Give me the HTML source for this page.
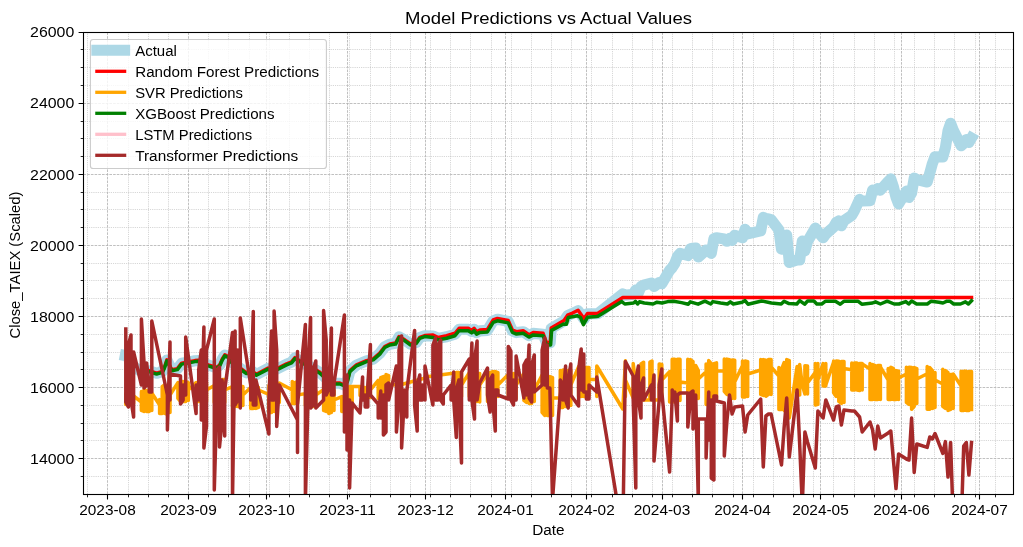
<!DOCTYPE html><html><head><meta charset="utf-8"><title>chart</title>
<style>html,body{margin:0;padding:0;background:#fff;}body{width:1023px;height:547px;overflow:hidden;font-family:"Liberation Sans",sans-serif;}svg{display:block;will-change:transform}text{font-family:"Liberation Sans",sans-serif;fill:#000}</style></head><body>
<svg width="1023" height="547" viewBox="0 0 1023 547">
<rect width="1023" height="547" fill="#fff"/>
<defs><clipPath id="c"><rect x="83.5" y="32.5" width="930.0" height="462.0"/></clipPath></defs>
<g clip-path="url(#c)" fill="none" stroke="#b0b0b0" stroke-width="0.7">
<path d="M87.5 32.5V494.5M128.5 32.5V494.5M148.5 32.5V494.5M168.5 32.5V494.5M208.5 32.5V494.5M228.5 32.5V494.5M249.5 32.5V494.5M269.5 32.5V494.5M289.5 32.5V494.5M309.5 32.5V494.5M329.5 32.5V494.5M349.5 32.5V494.5M370.5 32.5V494.5M390.5 32.5V494.5M410.5 32.5V494.5M430.5 32.5V494.5M450.5 32.5V494.5M470.5 32.5V494.5M491.5 32.5V494.5M511.5 32.5V494.5M531.5 32.5V494.5M551.5 32.5V494.5M571.5 32.5V494.5M591.5 32.5V494.5M612.5 32.5V494.5M632.5 32.5V494.5M652.5 32.5V494.5M672.5 32.5V494.5M692.5 32.5V494.5M712.5 32.5V494.5M733.5 32.5V494.5M753.5 32.5V494.5M773.5 32.5V494.5M793.5 32.5V494.5M813.5 32.5V494.5M833.5 32.5V494.5M854.5 32.5V494.5M874.5 32.5V494.5M894.5 32.5V494.5M914.5 32.5V494.5M934.5 32.5V494.5M954.5 32.5V494.5M975.5 32.5V494.5M995.5 32.5V494.5M83.5 476.5H1013.5M83.5 440.5H1013.5M83.5 423.5H1013.5M83.5 405.5H1013.5M83.5 369.5H1013.5M83.5 352.5H1013.5M83.5 334.5H1013.5M83.5 298.5H1013.5M83.5 280.5H1013.5M83.5 263.5H1013.5M83.5 227.5H1013.5M83.5 209.5H1013.5M83.5 192.5H1013.5M83.5 156.5H1013.5M83.5 138.5H1013.5M83.5 121.5H1013.5M83.5 85.5H1013.5M83.5 67.5H1013.5M83.5 49.5H1013.5" stroke-dasharray="0.75 1.1" stroke-width="1" opacity="0.68"/>
<path d="M107.5 32.5V494.5M188.5 32.5V494.5M266.5 32.5V494.5M347.5 32.5V494.5M425.5 32.5V494.5M505.5 32.5V494.5M586.5 32.5V494.5M662.5 32.5V494.5M742.5 32.5V494.5M820.5 32.5V494.5M901.5 32.5V494.5M979.5 32.5V494.5M83.5 458.5H1013.5M83.5 387.5H1013.5M83.5 316.5H1013.5M83.5 245.5H1013.5M83.5 174.5H1013.5M83.5 103.5H1013.5M83.5 32.5H1013.5" stroke-dasharray="2.6 1.1" stroke-width="1" opacity="0.8"/>
</g>
<g clip-path="url(#c)" fill="none" stroke-linejoin="round">
<polyline points="125.3,355.5 127.9,356.0 130.5,364.0 133.1,366.0 141.0,371.5 143.6,370.5 146.2,371.5 149.1,370.8 156.6,373.3 162.4,371.6 164.5,367.2 166.9,360.0 169.5,365.2 171.6,370.0 177.4,368.8 181.6,363.3 188.0,362.2 194.9,360.8 198.2,360.5 203.0,362.7 208.2,365.0 216.5,367.7 219.8,365.0 222.3,359.2 224.8,355.0 228.1,356.7 232.0,362.2 240.0,368.2 246.4,372.8 251.4,370.8 256.4,374.5 268.1,368.3 271.0,370.2 276.7,369.1 286.6,364.1 291.6,362.1 295.0,357.8 300.8,361.6 308.0,365.2 319.9,372.4 326.0,378.2 331.6,383.2 339.9,383.2 344.5,385.2 347.4,380.8 349.9,370.8 356.5,365.0 366.5,360.8 373.2,359.1 379.8,353.3 384.8,346.7 389.8,344.2 395.6,343.3 399.0,336.7 404.8,340.0 410.6,344.2 416.4,342.5 419.8,337.5 424.7,335.8 433.1,336.0 438.3,338.4 446.6,336.7 455.0,334.2 459.1,329.2 468.3,329.2 471.6,331.4 474.1,329.2 476.6,332.6 479.9,330.9 487.4,330.4 493.2,320.9 497.4,319.3 508.2,321.4 512.4,330.9 516.5,332.6 523.2,331.7 529.0,335.6 533.2,333.4 543.1,334.2 546.5,342.9 550.2,342.9 551.2,328.5 564.0,320.9 567.6,315.6 572.0,313.7 578.1,310.7 584.0,319.1 587.5,313.8 596.3,313.8 597.9,313.6 622.8,293.9 625.4,295.2 633.2,294.2 635.8,290.0 638.4,292.8 641.0,286.5 643.6,285.2 651.4,283.1 654.0,286.5 659.2,282.5 661.8,283.6 669.6,270.4 672.2,267.6 674.8,263.5 677.4,256.6 680.0,253.4 687.8,255.5 690.4,248.8 693.0,248.3 695.7,248.0 698.3,257.0 706.1,250.0 708.7,250.8 711.3,253.4 713.9,238.7 716.5,237.7 724.3,238.9 726.9,241.3 729.5,238.6 732.1,240.5 734.7,235.3 742.5,237.8 745.1,229.2 747.7,233.8 760.7,230.9 763.3,217.4 765.9,218.5 768.5,219.0 771.1,219.6 778.9,229.8 781.5,249.2 784.1,238.2 786.7,235.0 789.3,262.5 797.1,260.0 799.7,260.0 802.3,241.1 804.9,250.8 807.5,241.5 815.3,228.1 817.9,231.7 823.1,237.8 825.8,234.0 833.6,227.1 836.2,222.5 838.8,220.9 841.4,225.8 844.0,220.6 851.8,215.3 854.4,210.7 857.0,205.0 859.6,199.4 862.2,201.0 870.0,200.6 872.6,190.1 875.2,190.6 877.8,188.6 880.4,190.1 888.2,181.4 890.8,178.9 893.4,186.7 896.0,197.3 898.6,204.0 906.4,191.1 909.0,197.5 911.6,193.0 914.2,178.1 916.8,179.7 927.2,182.0 929.8,172.9 932.4,163.6 935.0,156.7 942.8,157.0 945.4,147.8 948.0,130.9 950.6,123.3 953.2,130.1 961.1,145.8 963.7,143.6 966.3,139.6 968.9,142.5 971.5,138.0" stroke="#add8e6" stroke-width="11.1" stroke-linecap="square"/>
<polyline points="149.1,370.6 156.6,373.1 162.4,371.4 164.5,367.0 166.9,359.8 169.5,365.0 171.6,369.8 177.4,368.6 181.6,363.1 188.0,362.0 194.9,360.6 198.2,360.3 203.0,362.5 208.2,364.8 216.5,367.5 219.8,364.8 222.3,359.0 224.8,354.8 228.1,356.5 232.0,362.0 240.0,368.0 246.4,372.6 251.4,370.6 256.4,374.3 268.1,368.1 271.0,370.0 276.7,368.9 286.6,363.9 291.6,361.9 295.0,357.6 300.8,361.4 308.0,365.0 319.9,372.2 326.0,378.0 331.6,383.0 339.9,383.0 344.5,385.0 347.4,380.6 349.9,370.6 356.5,364.8 366.5,360.6 373.2,358.9 379.8,353.1 384.8,346.5 389.8,344.0 395.6,343.1 399.0,336.5 404.8,339.8 410.6,344.0 416.4,342.3 419.8,337.3 424.7,335.6 433.1,335.1 438.3,337.5 446.6,335.8 455.0,333.3 459.1,328.3 468.3,328.3 471.6,330.5 474.1,328.3 476.6,331.7 479.9,330.0 487.4,329.5 493.2,320.0 497.4,318.4 508.2,320.5 512.4,330.0 516.5,331.7 523.2,330.8 529.0,334.7 533.2,332.5 543.1,333.3 546.5,342.5 550.2,342.5 551.2,328.1 564.0,320.5 567.6,315.2 572.0,313.3 578.1,310.3 584.0,318.7 587.5,313.4 596.3,313.4 597.9,313.2 622.8,297.5 971.5,297.5" stroke="#ff0000" stroke-width="3.5" stroke-linecap="square"/>
<polyline points="125.8,395.0 125.8,393.6 125.8,404.4 128.4,404.4 128.4,393.6 131.0,394.6 131.0,404.4 133.6,403.4 133.6,395.6 133.6,396.0 141.4,402.0 141.4,391.6 141.4,410.4 144.0,411.4 144.0,389.6 146.6,390.6 146.6,411.4 149.2,411.4 149.2,391.6 151.8,393.6 151.8,410.4 151.8,393.0 159.6,405.0 159.6,399.6 159.6,413.4 162.2,413.4 162.2,386.6 164.8,384.6 164.8,413.4 167.4,414.4 167.4,386.6 170.0,396.6 170.0,412.4 170.0,395.0 177.9,382.6 177.9,398.4 180.5,401.4 180.5,381.6 183.1,381.6 183.1,401.4 185.7,401.4 185.7,381.6 188.3,382.6 188.3,400.4 188.3,390.0 196.1,382.6 196.1,401.4 198.7,401.4 198.7,382.6 201.3,382.6 201.3,402.4 203.9,402.4 203.9,382.6 206.5,382.6 206.5,401.4 206.5,390.0 214.3,385.6 214.3,402.4 216.9,402.4 216.9,384.6 219.5,384.6 219.5,402.4 222.1,402.4 222.1,379.6 224.7,379.6 224.7,402.4 224.7,390.0 232.5,386.6 232.5,406.4 235.1,406.4 235.1,386.6 237.7,386.6 237.7,406.4 240.3,406.4 240.3,386.6 242.9,386.6 242.9,405.4 242.9,395.0 250.7,387.6 250.7,408.4 253.3,408.4 253.3,387.6 255.9,387.6 255.9,408.4 258.5,407.4 258.5,387.6 258.5,390.0 268.9,394.5 268.9,385.6 268.9,412.4 271.5,412.4 271.5,385.6 274.1,385.6 274.1,411.4 276.7,403.4 276.7,384.6 279.3,384.6 279.3,402.4 279.3,383.0 292.3,390.0 292.3,381.6 292.3,403.4 294.9,403.4 294.9,382.6 297.5,381.6 297.5,403.4 297.5,395.0 305.4,393.6 305.4,405.4 308.0,406.4 308.0,389.6 310.6,389.6 310.6,406.4 313.2,406.4 313.2,390.6 315.8,390.6 315.8,405.4 315.8,395.0 323.6,389.6 323.6,410.4 326.2,411.4 326.2,389.6 328.8,389.6 328.8,413.4 331.4,412.4 331.4,390.6 334.0,390.6 334.0,410.4 334.0,400.0 341.8,396.6 341.8,411.4 344.4,411.4 344.4,397.6 344.4,400.0 347.0,389.6 347.0,406.4 349.6,408.4 349.6,386.6 352.2,386.6 352.2,408.4 352.2,386.5 360.0,386.5 360.0,388.1 360.0,395.4 362.6,396.4 362.6,387.6 365.2,387.6 365.2,397.4 367.8,398.4 367.8,387.6 370.4,388.6 370.4,397.4 370.4,390.0 378.2,380.3 378.2,398.4 380.8,398.4 380.8,377.6 383.4,376.6 383.4,398.4 386.0,398.4 386.0,374.6 388.6,375.6 388.6,398.4 388.6,385.0 401.6,384.5 425.0,378.0 425.0,377.0 451.1,373.5 453.7,373.6 453.7,393.4 456.3,393.4 456.3,372.6 458.9,372.6 458.9,394.4 461.5,396.4 461.5,372.6 461.5,385.0 469.3,372.6 469.3,396.4 471.9,396.4 471.9,372.6 474.5,372.6 474.5,396.4 477.1,401.4 477.1,373.6 479.7,373.6 479.7,401.9 479.7,385.0 487.5,373.6 487.5,401.4 490.1,400.4 490.1,372.6 492.7,371.6 492.7,396.4 495.3,396.4 495.3,371.6 497.9,372.6 497.9,396.4 497.9,385.0 508.3,374.6 508.3,396.4 510.9,397.4 510.9,374.6 513.5,373.6 513.5,398.4 516.1,398.4 516.1,373.6 516.1,385.0 523.9,373.6 523.9,400.4 526.5,402.4 526.5,373.6 529.1,373.6 529.1,403.4 531.7,403.4 531.7,374.6 534.3,374.6 534.3,401.4 534.3,390.0 542.1,375.0 542.1,376.3 542.1,412.4 544.7,415.4 544.7,376.6 547.3,376.6 547.3,415.4 549.9,415.4 549.9,376.6 552.5,377.6 552.5,415.4 552.5,398.0 560.3,398.0 560.3,370.6 560.3,407.4 562.9,407.4 562.9,370.1 565.6,370.1 565.6,406.4 568.2,406.4 568.2,370.6 570.8,370.6 570.8,405.4 570.8,385.0 578.6,366.6 578.6,396.4 581.2,396.4 581.2,366.6 583.8,366.6 583.8,396.4 586.4,396.4 586.4,367.6 589.0,367.6 589.0,395.4 589.0,379.5 596.8,379.5 596.8,367.6 596.8,396.4 596.8,366.0 622.8,409.0 625.4,360.8 625.4,362.4 625.4,396.4 625.4,380.0 633.2,398.0 633.2,363.5 635.8,385.0 638.4,400.0 641.0,400.0 641.0,364.0 643.6,362.3 643.6,400.0 649.9,400.0 649.9,362.0 652.0,361.0 652.0,398.0 654.0,400.0 659.2,400.0 659.2,364.0 661.8,364.5 661.8,400.0 661.8,380.0 669.6,371.6 669.6,401.9 672.2,401.9 672.2,359.3 674.8,359.3 674.8,401.9 677.4,401.4 677.4,359.3 680.0,359.3 680.0,400.4 680.0,382.0 687.8,383.0 687.8,359.3 687.8,398.4 690.4,398.4 690.4,359.6 693.0,361.6 693.0,398.4 695.7,399.4 695.7,365.6 698.3,370.6 698.3,398.4 698.3,379.0 706.1,371.7 706.1,364.1 706.1,404.4 708.7,404.4 708.7,360.6 711.3,363.6 711.3,400.4 713.9,398.4 713.9,363.6 716.5,362.9 716.5,398.4 716.5,371.0 724.3,371.0 724.3,359.1 724.3,391.4 726.9,394.4 726.9,359.1 729.5,359.6 729.5,396.4 732.1,398.4 732.1,360.1 734.7,360.3 734.7,398.4 734.7,382.0 742.5,365.6 742.5,361.0 742.5,396.9 745.1,396.9 745.1,361.0 747.7,361.6 747.7,396.4 747.7,374.0 760.7,370.0 760.7,359.6 760.7,394.4 763.3,395.4 763.3,359.6 765.9,360.1 765.9,396.2 768.5,394.4 768.5,359.6 771.1,359.6 771.1,394.4 771.1,367.0 778.9,376.0 778.9,367.6 778.9,409.4 781.5,409.4 781.5,369.6 784.1,362.6 784.1,410.4 786.7,412.4 786.7,359.6 789.3,360.6 789.3,416.9 789.3,418.0 797.1,366.5 797.1,393.0 799.7,395.0 799.7,364.4 802.3,385.0 804.9,394.0 804.9,365.8 807.5,366.0 807.5,394.0 807.5,383.0 815.3,372.4 815.3,363.6 815.3,405.1 817.9,404.4 817.9,363.6 817.9,380.0 823.1,363.6 823.1,385.9 825.8,385.9 825.8,363.6 825.8,385.0 833.6,362.0 833.6,361.0 833.6,392.8 836.2,396.4 836.2,361.0 838.8,361.2 838.8,401.4 841.4,403.4 841.4,361.6 844.0,361.6 844.0,402.4 844.0,368.5 851.8,369.7 851.8,363.1 851.8,390.0 854.4,390.0 854.4,363.1 857.0,363.1 857.0,390.0 859.6,390.4 859.6,363.6 862.2,363.6 862.2,390.0 862.2,364.0 870.0,369.0 870.0,363.6 870.0,399.6 872.6,399.6 872.6,364.6 875.2,365.6 875.2,399.4 877.8,399.4 877.8,365.6 880.4,365.6 880.4,399.4 880.4,367.0 888.2,380.0 888.2,368.6 888.2,399.6 890.8,399.6 890.8,367.2 893.4,368.6 893.4,399.6 896.0,399.4 896.0,370.6 898.6,371.3 898.6,399.4 898.6,378.0 906.4,374.0 906.4,367.2 906.4,402.4 909.0,404.4 909.0,367.2 911.6,367.6 911.6,409.2 914.2,406.4 914.2,367.6 916.8,368.6 916.8,403.4 916.8,379.0 927.2,373.8 927.2,366.6 927.2,409.2 929.8,409.2 929.8,367.6 932.4,370.6 932.4,408.4 935.0,407.4 935.0,372.6 935.0,380.0 942.8,384.0 942.8,369.2 942.8,406.4 945.4,408.4 945.4,370.6 948.0,372.6 948.0,410.4 950.6,409.4 950.6,374.6 953.2,374.6 953.2,408.4 953.2,374.0 961.1,386.0 961.1,371.3 961.1,410.6 963.7,410.6 963.7,371.3 966.3,371.3 966.3,410.6 968.9,410.4 968.9,371.6 971.5,371.6 971.5,409.4" stroke="#ffa500" stroke-width="3.5" stroke-linecap="square"/>
<polyline points="149.1,371.6 156.6,374.1 162.4,372.4 164.5,368.0 166.9,360.8 169.5,366.0 171.6,370.8 177.4,369.6 181.6,364.1 188.0,363.0 194.9,361.6 198.2,361.3 203.0,363.5 208.2,365.8 216.5,368.5 219.8,365.8 222.3,360.0 224.8,355.8 228.1,357.5 232.0,363.0 240.0,369.0 246.4,373.6 251.4,371.6 256.4,375.3 268.1,369.1 271.0,371.0 276.7,369.9 286.6,364.9 291.6,362.9 295.0,358.6 300.8,362.4 308.0,366.0 319.9,373.2 326.0,379.0 331.6,384.0 339.9,384.0 344.5,386.0 347.4,381.6 349.9,371.6 356.5,365.8 366.5,361.6 373.2,359.9 379.8,354.1 384.8,347.5 389.8,345.0 395.6,344.1 399.0,337.5 404.8,340.8 410.6,345.0 416.4,343.3 419.8,338.3 424.7,336.6 433.1,337.5 438.3,339.9 446.6,338.2 455.0,335.7 459.1,330.7 468.3,330.7 471.6,332.9 474.1,330.7 476.6,334.1 479.9,332.4 487.4,331.9 493.2,322.4 497.4,320.8 508.2,322.9 512.4,332.4 516.5,334.1 523.2,333.2 529.0,337.1 533.2,334.9 543.1,335.7 546.5,345.0 550.6,345.0 551.6,330.4 563.5,324.0 566.4,324.3 568.2,317.5 577.5,315.8 580.5,317.5 583.4,324.6 587.5,317.3 596.3,316.4 597.9,316.2 621.8,301.6 624.8,304.0 633.6,303.0 635.5,301.4 637.5,304.0 639.4,301.8 644.3,303.0 653.1,304.0 657.0,302.2 662.0,303.0 667.8,301.6 673.7,301.2 681.5,302.6 688.3,304.2 690.3,301.8 698.1,304.2 704.9,301.2 710.8,304.0 712.8,301.6 720.6,303.0 727.4,304.0 730.3,301.8 733.3,304.0 742.1,302.2 745.0,300.6 748.0,304.2 761.6,301.0 771.4,303.0 781.2,304.0 784.1,301.2 789.0,303.6 796.8,304.0 799.7,300.6 804.6,304.2 807.6,301.0 813.9,301.0 816.8,304.0 821.7,304.0 825.6,301.2 835.4,301.2 840.3,304.2 844.2,301.2 857.9,301.2 861.8,304.2 872.6,303.0 875.5,301.8 880.4,304.0 887.2,301.2 894.1,304.0 899.0,304.0 905.8,301.6 908.7,304.0 911.7,301.0 916.6,304.0 927.3,304.0 931.2,301.2 939.0,302.2 943.0,303.0 946.9,301.2 949.8,301.2 953.7,304.0 960.5,304.0 965.4,301.8 968.4,304.0 971.5,300.8" stroke="#008000" stroke-width="3.5" stroke-linecap="square"/>
<polyline points="125.8,329.0 125.8,402.0 128.4,407.0 128.4,345.0 131.0,335.0 131.0,400.0 133.6,417.0 133.6,352.0 141.4,385.0 141.4,319.0 144.0,362.0 144.0,388.0 146.6,385.0 146.6,363.0 149.2,385.0 149.2,392.0 151.8,392.0 151.8,321.0 167.4,395.0 167.4,430.0 170.0,342.0 170.0,400.0 170.0,374.0 180.5,376.0 180.5,404.0 183.1,400.0 183.1,385.0 185.7,395.0 185.7,337.0 196.1,413.5 196.1,385.0 198.7,400.0 198.7,370.0 201.3,350.0 201.3,420.0 203.9,327.0 203.9,448.0 206.5,426.0 206.5,350.0 214.3,319.0 214.3,490.0 216.9,400.0 216.9,370.0 219.5,367.0 219.5,447.0 222.1,420.0 222.1,380.0 224.7,436.0 224.7,390.0 232.5,332.5 232.5,500.0 235.1,331.0 235.1,405.0 237.7,400.0 237.7,350.0 240.3,408.0 240.3,318.0 250.7,385.0 250.7,400.0 253.3,311.4 253.3,405.0 255.9,405.0 255.9,380.0 268.9,434.0 268.9,400.0 271.5,331.0 271.5,400.0 274.1,400.0 274.1,311.0 276.7,350.0 276.7,426.5 279.3,385.0 297.5,420.0 297.5,351.4 297.5,452.4 297.5,405.0 305.4,324.5 305.4,500.0 308.0,400.0 308.0,365.0 310.6,317.5 310.6,408.0 313.2,405.0 313.2,370.0 315.8,361.0 315.8,408.0 323.6,400.0 323.6,310.6 326.2,340.0 326.2,395.0 328.8,389.0 331.4,328.0 331.4,395.0 334.0,395.0 334.0,383.0 344.4,315.0 344.4,432.0 347.0,375.0 347.0,450.0 349.6,400.0 349.6,488.0 352.2,403.0 360.0,413.0 362.6,377.0 362.6,400.0 365.2,395.0 365.2,407.0 367.8,407.0 367.8,385.0 370.4,344.5 370.4,395.0 378.2,404.0 378.2,418.0 380.8,391.0 380.8,418.0 383.4,395.0 383.4,435.0 386.0,432.0 386.0,385.0 388.6,383.0 388.6,400.0 396.4,366.0 396.4,432.0 399.0,400.0 399.0,350.0 401.6,336.0 401.6,448.0 404.2,400.0 404.2,390.0 406.8,417.0 406.8,391.0 414.6,330.5 414.6,405.0 417.2,431.0 417.2,385.0 419.8,375.0 419.8,400.0 422.4,400.0 422.4,385.0 425.0,400.0 425.0,366.0 432.9,405.0 432.9,345.0 435.5,338.0 435.5,400.0 438.1,400.0 438.1,345.0 440.7,340.0 440.7,400.0 443.3,404.0 443.3,395.0 451.1,385.0 451.1,400.0 453.7,372.0 453.7,400.0 456.3,437.5 456.3,390.0 458.9,380.0 458.9,400.0 461.5,463.0 461.5,372.0 469.3,359.0 469.3,400.0 471.9,343.0 471.9,400.0 474.5,419.0 474.5,360.0 477.1,341.0 477.1,400.0 479.7,383.0 487.5,368.0 487.5,395.0 490.1,412.0 490.1,380.0 492.7,375.0 492.7,400.0 495.3,431.0 495.3,390.0 497.9,390.0 497.9,395.0 508.3,399.0 508.3,346.4 510.9,351.0 510.9,400.0 513.5,405.0 513.5,380.0 516.1,400.0 516.1,356.0 523.9,398.0 523.9,365.0 526.5,360.0 526.5,395.0 529.1,345.0 529.1,398.0 531.7,402.0 531.7,365.0 534.3,355.0 534.3,392.0 542.1,385.0 542.1,350.0 544.7,338.0 544.7,385.0 547.3,345.0 547.3,388.0 549.9,388.0 552.5,500.0 560.3,392.0 560.3,380.0 562.9,385.0 562.9,400.0 565.6,366.0 565.6,400.0 568.2,408.0 568.2,380.0 570.8,364.0 570.8,395.0 578.6,406.0 578.6,370.0 581.2,349.0 581.2,390.0 583.8,354.0 583.8,392.0 586.4,392.0 586.4,399.0 589.0,399.0 589.0,385.0 596.8,392.0 596.8,377.0 622.8,536.0 625.4,361.5 633.2,376.0 633.2,400.0 635.8,488.0 635.8,380.0 638.4,366.0 638.4,400.0 641.0,418.0 641.0,385.0 643.6,378.0 643.6,400.0 651.4,385.0 651.4,400.0 654.0,375.0 654.0,461.0 659.2,400.0 659.2,385.0 661.8,369.0 661.8,392.0 669.6,472.0 672.2,396.0 672.2,390.0 674.8,400.0 674.8,392.0 677.4,421.0 677.4,395.0 680.0,393.0 687.8,393.0 687.8,427.0 690.4,400.0 690.4,393.0 693.0,391.0 693.0,429.0 695.7,410.0 695.7,395.0 698.3,500.0 698.3,419.0 706.1,419.0 706.1,458.0 708.7,392.0 708.7,440.0 711.3,400.0 711.3,478.0 713.9,480.0 713.9,396.0 716.5,396.0 716.5,401.0 724.3,403.0 724.3,456.0 726.9,421.0 729.5,395.0 732.1,414.0 734.7,407.0 742.5,406.0 745.1,432.0 747.7,415.0 760.7,399.0 763.3,467.0 765.9,416.0 768.5,414.0 771.1,414.0 778.9,452.0 781.5,465.0 784.1,428.0 786.7,398.0 789.3,457.0 797.1,390.0 799.7,445.0 802.3,505.0 804.9,432.0 807.5,442.0 815.3,468.0 817.9,411.0 823.1,418.0 825.8,400.0 833.6,420.0 836.2,407.0 838.8,406.0 841.4,425.0 844.0,410.0 851.8,411.0 854.4,411.0 857.0,414.0 859.6,417.0 862.2,432.0 870.0,422.0 872.6,430.0 875.2,449.0 877.8,426.0 880.4,438.0 888.2,433.0 890.8,431.0 893.4,460.0 896.0,488.5 898.6,454.0 906.4,459.0 909.0,460.0 911.6,418.0 914.2,472.4 916.8,444.0 927.2,447.4 929.8,437.0 932.4,439.0 935.0,433.5 942.8,453.4 945.4,441.6 948.0,477.0 950.6,442.5 953.2,520.0 961.1,530.0 963.7,446.0 966.3,442.5 968.9,475.0 971.5,442.5" stroke="#a52a2a" stroke-width="3.5" stroke-linecap="square"/>
</g>
<rect x="83.5" y="32.5" width="930.0" height="462.0" fill="none" stroke="#000" stroke-width="1.1"/>
<path d="M107.5 494.5v4.9M188.5 494.5v4.9M266.5 494.5v4.9M347.5 494.5v4.9M425.5 494.5v4.9M505.5 494.5v4.9M586.5 494.5v4.9M662.5 494.5v4.9M742.5 494.5v4.9M820.5 494.5v4.9M901.5 494.5v4.9M979.5 494.5v4.9M83.5 458.5h-4.9M83.5 387.5h-4.9M83.5 316.5h-4.9M83.5 245.5h-4.9M83.5 174.5h-4.9M83.5 103.5h-4.9M83.5 32.5h-4.9" stroke="#000" stroke-width="1.1" fill="none"/>
<path d="M87.5 494.5v2.8M128.5 494.5v2.8M148.5 494.5v2.8M168.5 494.5v2.8M208.5 494.5v2.8M228.5 494.5v2.8M249.5 494.5v2.8M269.5 494.5v2.8M289.5 494.5v2.8M309.5 494.5v2.8M329.5 494.5v2.8M349.5 494.5v2.8M370.5 494.5v2.8M390.5 494.5v2.8M410.5 494.5v2.8M430.5 494.5v2.8M450.5 494.5v2.8M470.5 494.5v2.8M491.5 494.5v2.8M511.5 494.5v2.8M531.5 494.5v2.8M551.5 494.5v2.8M571.5 494.5v2.8M591.5 494.5v2.8M612.5 494.5v2.8M632.5 494.5v2.8M652.5 494.5v2.8M672.5 494.5v2.8M692.5 494.5v2.8M712.5 494.5v2.8M733.5 494.5v2.8M753.5 494.5v2.8M773.5 494.5v2.8M793.5 494.5v2.8M813.5 494.5v2.8M833.5 494.5v2.8M854.5 494.5v2.8M874.5 494.5v2.8M894.5 494.5v2.8M914.5 494.5v2.8M934.5 494.5v2.8M954.5 494.5v2.8M975.5 494.5v2.8M995.5 494.5v2.8M83.5 476.5h-2.8M83.5 440.5h-2.8M83.5 423.5h-2.8M83.5 405.5h-2.8M83.5 369.5h-2.8M83.5 352.5h-2.8M83.5 334.5h-2.8M83.5 298.5h-2.8M83.5 280.5h-2.8M83.5 263.5h-2.8M83.5 227.5h-2.8M83.5 209.5h-2.8M83.5 192.5h-2.8M83.5 156.5h-2.8M83.5 138.5h-2.8M83.5 121.5h-2.8M83.5 85.5h-2.8M83.5 67.5h-2.8M83.5 49.5h-2.8" stroke="#000" stroke-width="0.85" fill="none"/>
<text x="107.5" y="515.2" font-size="14" text-anchor="middle" textLength="56.5" lengthAdjust="spacingAndGlyphs">2023-08</text>
<text x="188.5" y="515.2" font-size="14" text-anchor="middle" textLength="56.5" lengthAdjust="spacingAndGlyphs">2023-09</text>
<text x="266.5" y="515.2" font-size="14" text-anchor="middle" textLength="56.5" lengthAdjust="spacingAndGlyphs">2023-10</text>
<text x="347.5" y="515.2" font-size="14" text-anchor="middle" textLength="56.5" lengthAdjust="spacingAndGlyphs">2023-11</text>
<text x="425.5" y="515.2" font-size="14" text-anchor="middle" textLength="56.5" lengthAdjust="spacingAndGlyphs">2023-12</text>
<text x="505.5" y="515.2" font-size="14" text-anchor="middle" textLength="56.5" lengthAdjust="spacingAndGlyphs">2024-01</text>
<text x="586.5" y="515.2" font-size="14" text-anchor="middle" textLength="56.5" lengthAdjust="spacingAndGlyphs">2024-02</text>
<text x="662.0" y="515.2" font-size="14" text-anchor="middle" textLength="56.5" lengthAdjust="spacingAndGlyphs">2024-03</text>
<text x="742.5" y="515.2" font-size="14" text-anchor="middle" textLength="56.5" lengthAdjust="spacingAndGlyphs">2024-04</text>
<text x="820.5" y="515.2" font-size="14" text-anchor="middle" textLength="56.5" lengthAdjust="spacingAndGlyphs">2024-05</text>
<text x="901.5" y="515.2" font-size="14" text-anchor="middle" textLength="56.5" lengthAdjust="spacingAndGlyphs">2024-06</text>
<text x="979.5" y="515.2" font-size="14" text-anchor="middle" textLength="56.5" lengthAdjust="spacingAndGlyphs">2024-07</text>
<text x="74.3" y="463.8" font-size="14" text-anchor="end" textLength="44.2" lengthAdjust="spacingAndGlyphs">14000</text>
<text x="74.3" y="392.7" font-size="14" text-anchor="end" textLength="44.2" lengthAdjust="spacingAndGlyphs">16000</text>
<text x="74.3" y="321.6" font-size="14" text-anchor="end" textLength="44.2" lengthAdjust="spacingAndGlyphs">18000</text>
<text x="74.3" y="250.5" font-size="14" text-anchor="end" textLength="44.2" lengthAdjust="spacingAndGlyphs">20000</text>
<text x="74.3" y="179.5" font-size="14" text-anchor="end" textLength="44.2" lengthAdjust="spacingAndGlyphs">22000</text>
<text x="74.3" y="108.4" font-size="14" text-anchor="end" textLength="44.2" lengthAdjust="spacingAndGlyphs">24000</text>
<text x="74.3" y="37.3" font-size="14" text-anchor="end" textLength="44.2" lengthAdjust="spacingAndGlyphs">26000</text>
<text x="548.3" y="535.2" font-size="14" text-anchor="middle" textLength="32.3" lengthAdjust="spacingAndGlyphs">Date</text>
<text transform="translate(20.3,265.0) rotate(-90)" font-size="14" text-anchor="middle" textLength="147" lengthAdjust="spacingAndGlyphs">Close_TAIEX (Scaled)</text>
<text x="548.5" y="23.6" font-size="17.4" text-anchor="middle" textLength="287" lengthAdjust="spacingAndGlyphs">Model Predictions vs Actual Values</text>
<rect x="90.4" y="39.5" width="236" height="129" rx="2.8" ry="2.8" fill="#fff" fill-opacity="0.8" stroke="#cccccc" stroke-width="1.1"/>
<line x1="96.9" y1="50.3" x2="124.6" y2="50.3" stroke="#add8e6" stroke-width="11.1" stroke-linecap="square"/>
<text x="135.2" y="56.2" font-size="14" textLength="41.7" lengthAdjust="spacingAndGlyphs">Actual</text>
<line x1="96.9" y1="71.3" x2="124.6" y2="71.3" stroke="#ff0000" stroke-width="3.3" stroke-linecap="square"/>
<text x="135.2" y="77.2" font-size="14" textLength="184" lengthAdjust="spacingAndGlyphs">Random Forest Predictions</text>
<line x1="96.9" y1="92.3" x2="124.6" y2="92.3" stroke="#ffa500" stroke-width="3.3" stroke-linecap="square"/>
<text x="135.2" y="98.2" font-size="14" textLength="107.7" lengthAdjust="spacingAndGlyphs">SVR Predictions</text>
<line x1="96.9" y1="113.3" x2="124.6" y2="113.3" stroke="#008000" stroke-width="3.3" stroke-linecap="square"/>
<text x="135.2" y="119.2" font-size="14" textLength="139.3" lengthAdjust="spacingAndGlyphs">XGBoost Predictions</text>
<line x1="96.9" y1="134.3" x2="124.6" y2="134.3" stroke="#ffc0cb" stroke-width="3.3" stroke-linecap="square"/>
<text x="135.2" y="140.2" font-size="14" textLength="116.9" lengthAdjust="spacingAndGlyphs">LSTM Predictions</text>
<line x1="96.9" y1="155.3" x2="124.6" y2="155.3" stroke="#a52a2a" stroke-width="3.3" stroke-linecap="square"/>
<text x="135.2" y="161.2" font-size="14" textLength="163.1" lengthAdjust="spacingAndGlyphs">Transformer Predictions</text>
</svg></body></html>
